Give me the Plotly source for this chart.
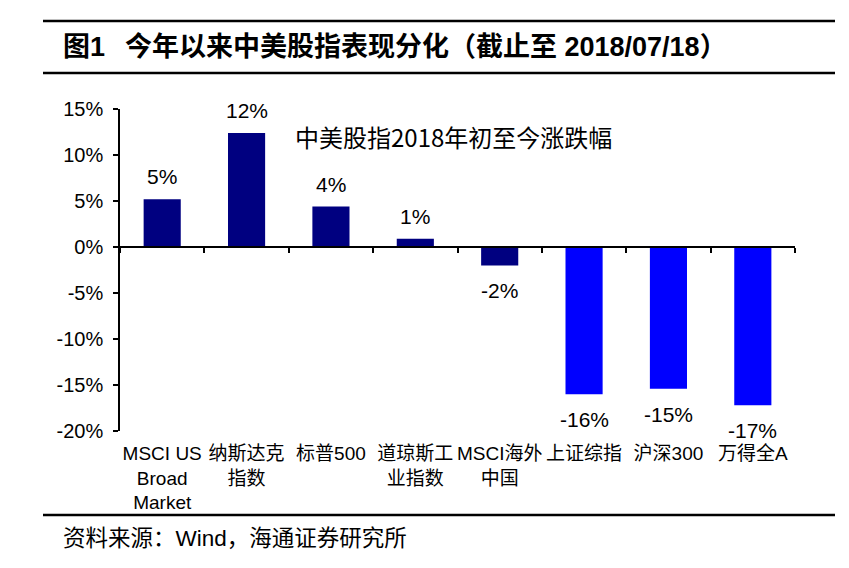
import plotly.graph_objects as go

categories = ["MSCI US<br>Broad<br>Market", "纳斯达克<br>指数", "标普500", "道琼斯工<br>业指数",
              "MSCI海外<br>中国", "上证综指", "沪深300", "万得全A"]
values = [5.2, 12.4, 4.4, 0.9, -2.0, -16.0, -15.4, -17.2]
colors = ["#000080"] * 5 + ["#0000FF"] * 3
tick_vals = [-20, -15, -10, -5, 0, 5, 10, 15]
tick_text = ["-20%", "-15%", "-10%", "-5%", "0%", "5%", "10%", "15%"]

title_fig = "图1"
title_text = "今年以来中美股指表现分化（截止至 2018/07/18）"
note = "中美股指2018年初至今涨跌幅"
source = "资料来源：Wind，海通证券研究所"

font_main = "Liberation Sans, Arial, Noto Sans CJK SC, sans-serif"

fig = go.Figure()
fig.add_trace(go.Bar(x=categories, y=values, marker=dict(color=colors, line=dict(width=0)),
                     width=0.44, showlegend=False, hoverinfo="skip"))
# invisible trace for the zero-line axis with category boundary ticks
fig.add_trace(go.Scatter(x=categories, y=[0] * len(categories), xaxis="x2", yaxis="y",
                         mode="markers", marker=dict(opacity=0), showlegend=False, hoverinfo="skip"))

y0, y1 = -20, 15
zero_pos = (0 - y0) / (y1 - y0)

# page has an 8px body margin, so the figure is offset by 8px
fig.update_layout(
    width=841, height=560,
    margin=dict(l=112, r=54, t=101, b=137),
    paper_bgcolor="white", plot_bgcolor="white",
    font=dict(family=font_main, color="black", size=18),
    xaxis=dict(type="category", showline=False, ticks="", showgrid=False, zeroline=False,
               tickfont=dict(size=19, family=font_main), ticklabelstandoff=9),
    xaxis2=dict(type="category", overlaying="x", matches="x", anchor="free", position=zero_pos,
                showline=True, linecolor="black", linewidth=1.5, ticks="outside",
                tickson="boundaries", ticklen=5, tickwidth=1.5, tickcolor="black",
                showticklabels=False, showgrid=False, zeroline=False),
    yaxis=dict(range=[y0, y1], tickvals=tick_vals, ticktext=tick_text, showgrid=False,
               zeroline=False, showline=True, linecolor="black", linewidth=1.5,
               ticks="outside", ticklen=5, tickwidth=1.5, tickcolor="black",
               ticklabelstandoff=6,
               tickfont=dict(size=20, family=font_main)),
)

# data labels
for c, v in zip(categories, values):
    fig.add_annotation(x=c, y=v, text=f"{round(v):d}%", showarrow=False,
                       yanchor="bottom" if v >= 0 else "top",
                       yshift=9 if v >= 0 else -12,
                       font=dict(size=21, family=font_main))

# helpers: page pixel -> paper coords
def px(xp):
    return (xp - 120) / 675

def py(yp):
    return (431 - yp) / 322

fig.add_annotation(xref="paper", yref="paper", x=px(453), y=py(117),
                   text=note, showarrow=False, font=dict(size=24, family="Noto Sans CJK SC"))

for yy in [21, 73, 515]:
    fig.add_shape(type="line", xref="paper", yref="paper", x0=px(43), x1=px(835),
                  y0=py(yy), y1=py(yy), line=dict(color="black", width=2.5))

fig.add_annotation(xref="paper", yref="paper", x=px(61), y=py(47), xanchor="left", yanchor="middle",
                   text=f"<b>{title_fig}</b>", showarrow=False,
                   font=dict(size=27, family="Liberation Sans, Noto Sans CJK SC"))
fig.add_annotation(xref="paper", yref="paper", x=px(123), y=py(47), xanchor="left", yanchor="middle",
                   text=f"<b>{title_text}</b>", showarrow=False,
                   font=dict(size=27, family="Liberation Sans, Noto Sans CJK SC"))
fig.add_annotation(xref="paper", yref="paper", x=px(61), y=py(538), xanchor="left", yanchor="middle",
                   text=source, showarrow=False,
                   font=dict(size=22.5, family="Liberation Sans, Noto Sans CJK SC"))

fig.write_html("out.html")
